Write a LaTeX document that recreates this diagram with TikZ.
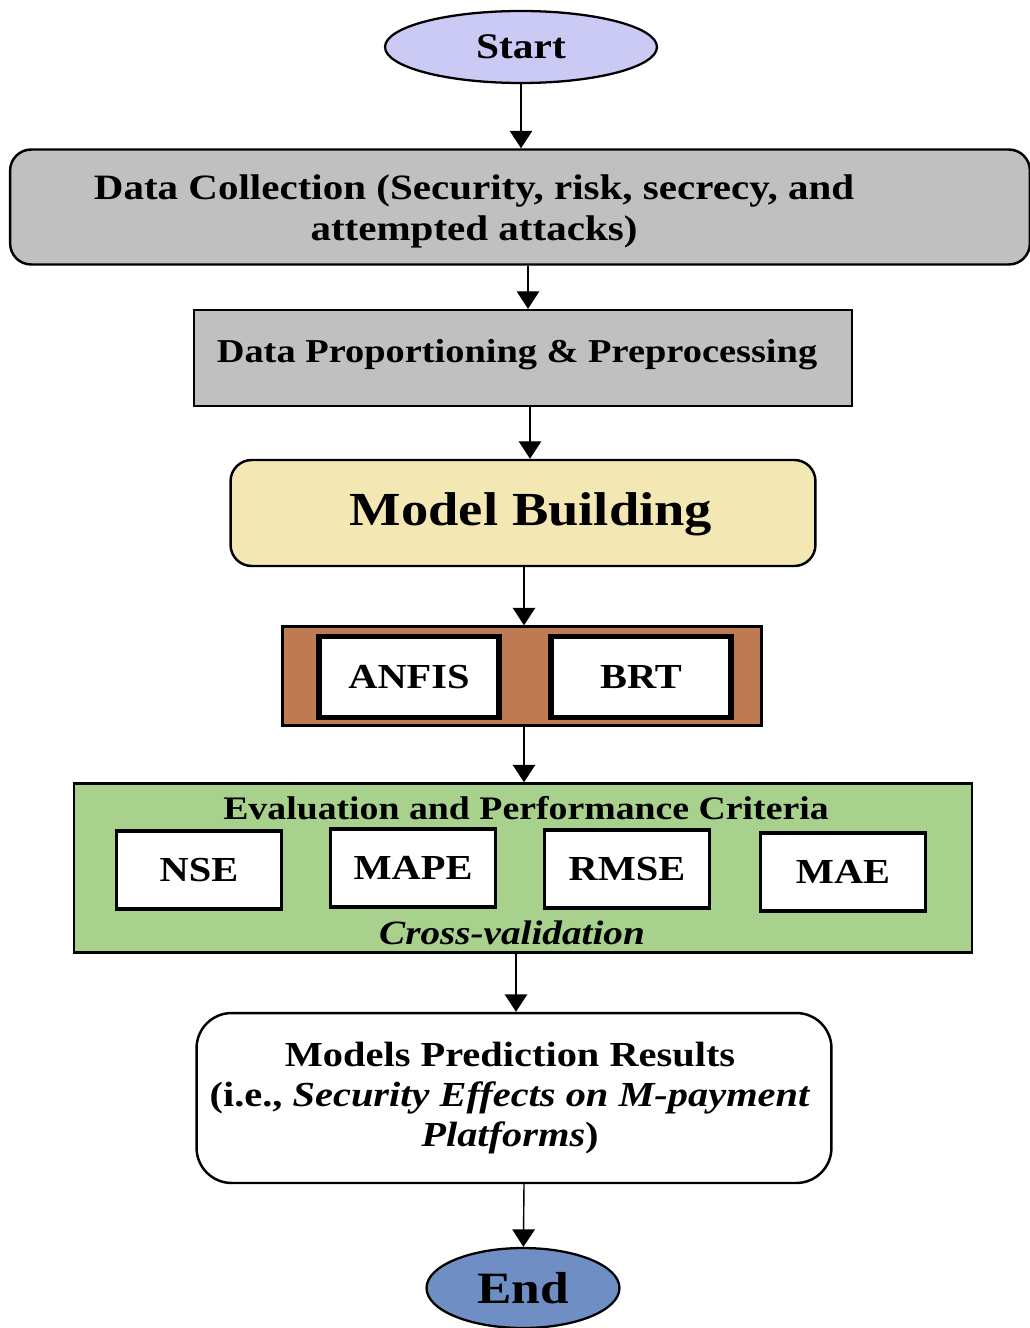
\documentclass[tikz,border=0pt]{standalone}
\usepackage{fontspec}
\setmainfont{Liberation Serif}[FakeStretch=1.15]
\usepackage{tikz}
\usetikzlibrary{shapes.geometric, arrows.meta, positioning, calc}
\definecolor{fcstart}{HTML}{CACAF4}
\definecolor{fcgray}{HTML}{C0C0C0}
\definecolor{fcyellow}{HTML}{F3E8B3}
\definecolor{fcbrown}{HTML}{BE7A52}
\definecolor{fcgreen}{HTML}{A9D18E}
\definecolor{fcend}{HTML}{6F8FC4}

\newcommand{\fsz}[1]{\fontsize{#1}{1.15\dimexpr#1\relax}\selectfont\bfseries}

\begin{document}
\begin{tikzpicture}[x=0.02cm, y=-0.02cm,
    term/.style={ellipse, draw=black, line width=1.3pt, fill=#1, inner sep=0pt},
    block/.style={rectangle, draw=black, line width=1.4pt, fill=#1, inner sep=0pt},
    metric/.style={rectangle, draw=black, line width=1.8pt, fill=white, inner sep=0pt,
                   minimum width=3.3cm, minimum height=1.56cm, font=\fsz{20pt}},
    model/.style={rectangle, draw=black, line width=3pt, fill=white, inner sep=0pt,
                  minimum width=3.6cm, minimum height=1.62cm, font=\fsz{20pt}},
    lbl/.style={inner sep=0pt, align=center},
    arrow/.style={-{Triangle[length=3.5mm, width=4.5mm]}, line width=0.8pt, color=black}
]
\useasboundingbox (0,0) rectangle (1030,1328);

\node[term=fcstart, minimum width=5.44cm, minimum height=1.44cm, font=\fsz{20.5pt}] (start) at (521,47) {Start};

\node[block=fcgray, rounded corners=12pt, minimum width=20.4cm, minimum height=2.3cm] (collect) at (520,207) {};
\node[lbl, font=\fsz{20.3pt}] (collecttxt) at (474,211) {Data Collection (Security, risk, secrecy, and\\attempted attacks)};

\node[block=fcgray, minimum width=13.16cm, minimum height=1.92cm] (prep) at (523,358) {};
\node[lbl, font=\fsz{19pt}] (preptxt) at (517,355) {Data Proportioning \& Preprocessing};

\node[block=fcyellow, rounded corners=12pt, minimum width=11.7cm, minimum height=2.12cm] (build) at (523,513) {};
\node[lbl, font=\fsz{27pt}] (buildtxt) at (531,514) {Model Building};

\node[block=fcbrown, minimum width=9.58cm, minimum height=1.98cm] (models) at (522,676) {};
\node[model] (anfis) at (409,677) {ANFIS};
\node[model] (brt) at (641,677) {BRT};

\node[block=fcgreen, minimum width=17.96cm, minimum height=3.38cm] (eval) at (523,868) {};
\node[lbl, font=\fsz{18.7pt}] (evaltxt) at (526,808) {Evaluation and Performance Criteria};
\node[metric] (nse) at (199,870) {NSE};
\node[metric] (mape) at (413,868) {MAPE};
\node[metric] (rmse) at (627,869) {RMSE};
\node[metric] (mae) at (843,872) {MAE};
\node[lbl, font=\fsz{19.4pt}\itshape] (cvtxt) at (512,933) {Cross-validation};

\node[block=white, rounded corners=20pt, minimum width=12.7cm, minimum height=3.4cm] (result) at (514,1098) {};
\node[lbl, font=\fsz{20pt}] (resulttxt) at (510,1098)
  {Models Prediction Results\\(i.e., \textit{Security Effects on M-payment}\\\textit{Platforms})};

\node[term=fcend, minimum width=3.86cm, minimum height=1.6cm, font=\fsz{25.5pt}] (end) at (523,1288) {End};

\draw[arrow] (start) -- (start |- collect.north);
\draw[arrow] (collect.south -| 528,0) -- (prep.north -| 528,0);
\draw[arrow] (prep.south -| 530,0) -- (build.north -| 530,0);
\draw[arrow] (build.south -| 524,0) -- (models.north -| 524,0);
\draw[arrow] (models.south -| 524,0) -- (eval.north -| 524,0);
\draw[arrow] (eval.south -| 516,0) -- (result.north -| 516,0);
\draw[arrow] (result.south -| 524,0) -- (end);
\end{tikzpicture}
\end{document}
